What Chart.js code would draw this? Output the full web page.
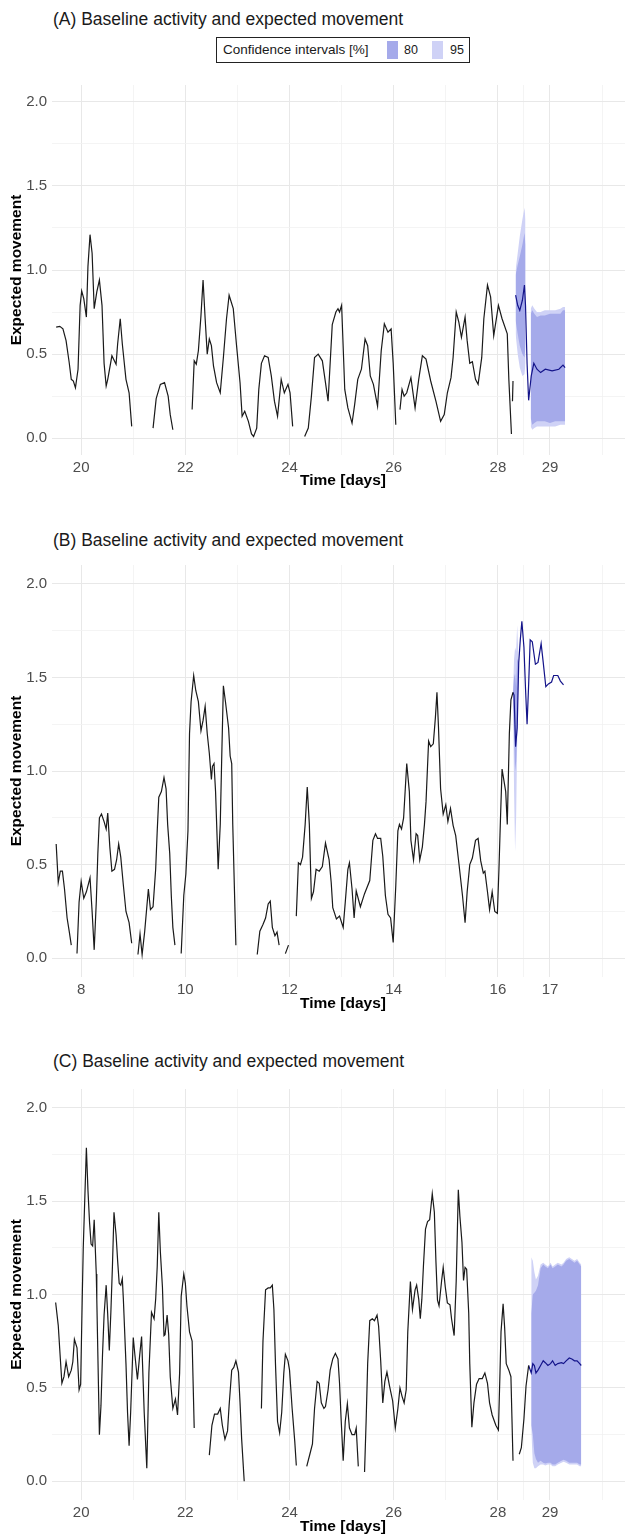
<!DOCTYPE html>
<html>
<head>
<meta charset="utf-8">
<script src="https://cdn.jsdelivr.net/npm/chart.js@4.4.1/dist/chart.umd.min.js"></script>
<style>
  body { margin: 0; background: #fff; font-family: "Liberation Sans", Arial, sans-serif; }
  #page { position: relative; width: 625px; height: 1537px; overflow: hidden; background: #fff; }
  canvas { position: absolute; left: 0; }
  .ptitle { position: absolute; left: 53px; font-size: 17.5px; color: #1a1a1a; white-space: nowrap; line-height: 20px; }
  .xtitle { position: absolute; left: 243px; width: 200px; text-align: center; font-weight: bold; font-size: 15.5px; color: #000; line-height: 18px; }
  #legend { position: absolute; left: 216px; top: 37px; width: 252px; height: 24px; border: 1px solid #222; }
  #legend span { position: absolute; white-space: nowrap; }
  .sw { position: absolute; top: 3px; width: 11px; height: 18px; }
</style>
</head>
<body>
<div id="page">
  <div class="ptitle" style="top:9px">(A) Baseline activity and expected movement</div>
  <div id="legend">
    <span style="left:6px;top:4px;font-size:13.5px;color:#1a1a1a">Confidence intervals [%]</span>
    <div class="sw" style="left:170px;background:#a5aaea"></div>
    <span style="left:187px;top:5px;font-size:12.5px;color:#1a1a1a">80</span>
    <div class="sw" style="left:215px;background:#cfd2f6"></div>
    <span style="left:233px;top:5px;font-size:12.5px;color:#1a1a1a">95</span>
  </div>
  <canvas id="chartA" width="625" height="410" style="top:71px"></canvas>
  <div class="xtitle" style="top:471px">Time [days]</div>

  <div class="ptitle" style="top:530px">(B) Baseline activity and expected movement</div>
  <canvas id="chartB" width="625" height="452" style="top:551px"></canvas>
  <div class="xtitle" style="top:994px">Time [days]</div>

  <div class="ptitle" style="top:1051px">(C) Baseline activity and expected movement</div>
  <canvas id="chartC" width="625" height="451" style="top:1075px"></canvas>
  <div class="xtitle" style="top:1517px">Time [days]</div>
</div>

<script>
// ---- panel A ----
const obsTimeA = [19.52,19.59,19.65,19.71,19.77,19.81,19.85,19.89,19.94,19.98,20.01,20.05,20.10,20.13,20.17,20.21,20.25,20.30,20.35,20.40,20.44,20.48,20.51,20.59,20.67,20.70,20.75,20.79,20.86,20.92,20.97,21.2,
  21.38,21.44,21.52,21.60,21.67,21.71,21.76,21.9,
  22.13,22.17,22.21,22.25,22.30,22.34,22.38,22.42,22.46,22.50,22.54,22.60,22.67,22.73,22.79,22.84,22.92,22.98,23.05,23.09,23.14,23.21,23.27,23.31,23.37,23.41,23.46,23.52,23.59,23.65,23.71,23.77,23.84,23.90,23.97,24.01,24.06,24.2,
  24.29,24.36,24.42,24.48,24.55,24.63,24.69,24.74,24.82,24.89,24.93,24.96,25.00,25.06,25.12,25.20,25.25,25.31,25.38,25.45,25.50,25.55,25.61,25.69,25.76,25.82,25.89,25.95,25.99,26.04,26.08,
  26.12,26.16,26.20,26.25,26.33,26.41,26.48,26.55,26.62,26.71,26.81,26.90,26.97,27.03,27.10,27.14,27.20,27.25,27.30,27.37,27.41,27.46,27.51,27.57,27.62,27.69,27.73,27.80,27.86,27.92,28.01,28.08,28.18,28.21,28.26,28.27,
  28.28,28.29];
const obsValA = [0.66,0.665,0.65,0.58,0.45,0.35,0.34,0.30,0.41,0.79,0.875,0.83,0.72,1.02,1.21,1.10,0.77,0.87,0.94,0.79,0.445,0.31,0.35,0.49,0.44,0.56,0.71,0.56,0.35,0.27,0.07,null,
  0.06,0.235,0.32,0.33,0.25,0.14,0.05,null,
  0.17,0.46,0.44,0.52,0.73,0.94,0.71,0.50,0.59,0.55,0.43,0.33,0.27,0.48,0.71,0.85,0.77,0.56,0.33,0.13,0.16,0.10,0.025,0.01,0.06,0.29,0.445,0.49,0.48,0.37,0.22,0.13,0.35,0.27,0.32,0.27,0.07,null,
  0.01,0.06,0.25,0.48,0.50,0.46,0.33,0.22,0.675,0.75,0.77,0.75,0.79,0.29,0.18,0.09,0.20,0.35,0.41,0.59,0.55,0.37,0.32,0.19,0.52,0.68,0.63,0.65,0.445,0.08,null,
  0.17,0.29,0.25,0.27,0.36,0.18,0.35,0.49,0.47,0.34,0.22,0.10,0.14,0.27,0.36,0.48,0.75,0.69,0.60,0.72,0.58,0.445,0.455,0.35,0.32,0.48,0.71,0.91,0.84,0.61,0.79,0.71,0.62,0.35,0.025,null,
  0.22,0.34];
const fcTimeA = [28.34,28.38,28.42,28.47,28.51,28.53,28.56,28.59,28.64,28.69,28.75,28.82,28.91,29.04,29.17,29.25,29.29];
const fcValA  = [0.85,0.79,0.76,0.82,0.91,0.79,0.445,0.225,0.37,0.445,0.41,0.39,0.41,0.40,0.41,0.435,0.42];
const ciTimeA = [28.34,28.38,28.42,28.47,28.51,28.53,28.58,28.63,28.66,28.70,28.75,28.82,28.90,29.00,29.10,29.20,29.25,29.29];
const hi95A = [1.00,1.10,1.20,1.30,1.37,1.30,null,0.77,0.79,0.77,0.75,0.75,0.76,0.76,0.76,0.77,0.78,0.78];
const hi80A = [0.97,1.03,1.08,1.15,1.22,1.15,null,0.74,0.76,0.74,0.72,0.73,0.73,0.74,0.74,0.74,0.76,0.76];
const lo80A = [0.70,0.62,0.55,0.50,0.48,0.55,null,0.12,0.08,0.09,0.10,0.10,0.10,0.09,0.10,0.10,0.10,0.10];
const lo95A = [0.62,0.50,0.42,0.37,0.38,0.45,null,0.07,0.05,0.06,0.07,0.07,0.07,0.07,0.07,0.08,0.08,0.08];
const xMajorA = [20,22,24,26,28,29];
const xMinorA = [21,23,25,27,28.5,30];

// ---- panel B ----
const obsTimeB = [7.52,7.56,7.60,7.64,7.68,7.73,7.77,7.81,7.86,
  7.92,7.96,8.00,8.05,8.10,8.17,8.21,8.25,8.29,8.32,8.35,8.39,8.44,8.48,8.51,8.55,8.59,8.64,8.68,8.72,8.76,8.81,8.86,8.92,8.97,9.03,
  9.09,9.13,9.17,9.22,9.29,9.33,9.38,9.43,9.46,9.49,9.54,9.59,9.63,9.66,9.70,9.73,9.76,9.80,9.86,
  9.92,9.97,10.01,10.05,10.08,10.11,10.16,10.20,10.25,10.30,10.34,10.38,10.42,10.46,10.50,10.52,10.55,10.58,10.63,10.67,10.70,10.73,10.77,10.83,10.86,10.89,10.91,10.94,10.97,11.2,
  11.38,11.43,11.49,11.54,11.59,11.63,11.67,11.72,11.76,11.80,11.86,
  11.92,11.98,12.05,
  12.13,12.17,12.21,12.25,12.30,12.34,12.38,12.42,12.46,12.51,12.57,12.63,12.69,12.76,12.80,12.83,12.90,12.96,13.03,13.07,13.12,13.15,13.20,13.24,13.28,13.36,13.44,13.54,13.60,13.65,13.69,13.75,13.79,13.84,13.89,13.94,13.99,
  14.04,14.08,14.11,14.15,14.19,14.25,14.30,14.33,14.38,14.43,14.46,14.50,14.55,14.59,14.62,14.67,14.71,14.76,14.80,14.83,14.86,14.90,14.95,15.00,15.04,15.09,15.14,15.19,15.25,15.32,15.37,15.41,15.46,15.51,15.57,15.62,15.67,15.72,15.75,15.80,15.84,15.89,15.94,15.99,
  16.02,16.05,16.08,16.15,16.18,16.22,16.25,16.29];
const obsValB = [0.61,0.405,0.465,0.465,0.37,0.215,0.145,0.07,null,
  0.025,0.30,0.41,0.32,0.355,0.43,0.25,0.045,0.30,0.56,0.75,0.77,0.73,0.69,0.775,0.595,0.465,0.475,0.525,0.61,0.54,0.39,0.25,0.19,0.08,null,
  0.02,0.13,0.02,0.145,0.37,0.26,0.275,0.475,0.68,0.86,0.89,0.965,0.905,0.715,0.56,0.335,0.165,0.07,null,
  0.025,0.335,0.45,0.68,1.20,1.37,1.51,1.43,1.37,1.215,1.27,1.345,1.20,1.095,0.955,1.025,1.04,0.89,0.475,0.715,1.095,1.455,1.37,1.23,1.08,1.04,0.715,0.39,0.07,null,
  0.02,0.145,0.18,0.215,0.29,0.305,0.165,0.12,0.14,0.07,null,
  0.025,0.07,null,
  0.225,0.51,0.50,0.54,0.715,0.915,0.715,0.32,0.355,0.475,0.465,0.49,0.615,0.525,0.405,0.27,0.21,0.225,0.165,0.30,0.475,0.51,0.37,0.215,0.36,0.275,0.345,0.415,0.63,0.665,0.64,0.64,0.545,0.335,0.235,0.215,0.085,
  0.39,0.68,0.715,0.69,0.75,1.04,0.89,0.63,0.525,0.665,0.655,0.525,0.595,0.715,0.835,1.16,1.13,1.145,1.285,1.42,1.23,0.905,0.77,0.82,0.73,0.80,0.71,0.655,0.51,0.335,0.19,0.355,0.50,0.535,0.63,0.64,0.52,0.455,0.465,0.355,0.26,0.355,0.25,0.24,
  0.475,0.75,1.01,0.89,0.715,1.20,1.38,1.42];
const fcTimeB = [16.29,16.31,16.34,16.37,16.40,16.43,16.46,16.50,16.53,16.56,16.59,16.62,16.66,16.72,16.77,16.83,16.87,16.92,16.97,17.03,17.07,17.15,17.20,17.26];
const fcValB  = [1.42,1.405,1.13,1.23,1.58,1.70,1.80,1.66,1.44,1.25,1.46,1.70,1.69,1.57,1.58,1.68,1.58,1.45,1.465,1.475,1.51,1.51,1.48,1.46];
const ciTimeB = [16.29,16.31,16.33,16.35,16.37,16.40];
const hi95B = [1.42,1.60,1.66,1.64,1.78,1.58];
const hi80B = [1.42,1.50,1.52,1.45,1.60,1.58];
const lo80B = [1.42,1.20,1.00,1.05,1.20,1.58];
const lo95B = [1.42,0.90,0.57,0.75,1.15,1.58];
const xMajorB = [8,10,12,14,16,17];
const xMinorB = [9,11,13,15,16.5,18];

// ---- panel C ----
const obsTimeC = [19.51,19.56,19.59,19.63,19.67,19.71,19.76,19.81,19.84,19.87,19.92,19.96,19.99,20.02,20.04,20.10,20.13,20.16,20.19,20.22,20.25,20.29,20.30,20.35,20.38,20.41,20.44,20.48,20.51,20.54,20.57,20.60,20.63,20.67,20.70,20.73,20.76,20.79,20.81,20.86,20.89,20.92,20.95,21.00,21.03,21.08,21.12,21.16,21.21,21.26,21.30,21.35,21.40,21.43,21.46,21.49,21.52,21.56,21.59,21.61,21.65,21.68,21.71,21.76,21.81,21.85,21.89,21.92,21.97,22.00,22.03,22.08,22.13,22.17,22.3,
  22.46,22.51,22.56,22.62,22.67,22.71,22.76,22.81,22.84,22.89,22.93,22.97,23.02,23.05,23.08,23.13,23.3,
  23.46,23.49,23.54,23.59,23.63,23.67,23.70,23.73,23.77,23.81,23.85,23.89,23.92,23.97,24.00,24.05,24.10,24.13,24.23,
  24.33,24.39,24.44,24.48,24.53,24.57,24.61,24.66,24.69,24.74,24.78,24.83,24.88,24.93,24.96,24.99,25.03,25.07,25.11,25.15,25.20,25.25,25.28,25.32,25.38,
  25.44,25.47,25.50,25.54,25.59,25.63,25.68,25.71,25.75,25.79,25.83,25.87,25.92,25.98,26.03,26.08,26.12,26.16,26.20,26.24,26.27,26.32,26.36,26.41,26.44,26.48,26.51,26.54,26.57,26.61,26.65,26.69,26.74,26.78,26.81,26.84,26.87,26.92,26.95,26.99,27.03,27.08,27.11,27.16,27.20,27.24,27.27,27.31,27.34,27.37,27.40,27.44,27.46,27.50,27.54,27.59,27.64,27.70,27.75,27.80,27.84,27.89,27.96,28.01,28.04,28.06,28.10,28.13,28.16,28.21,28.25,28.29,28.35,
  28.41,28.45,28.50,28.54,28.59];
const obsValC = [0.957,0.835,0.70,0.525,0.56,0.64,0.56,0.595,0.64,0.76,0.715,0.49,0.52,0.975,1.25,1.785,1.56,1.39,1.27,1.26,1.40,1.11,0.975,0.25,0.405,0.68,0.89,1.05,0.89,0.70,0.905,1.15,1.44,1.32,1.18,1.06,1.05,1.085,0.975,0.63,0.37,0.19,0.37,0.77,0.68,0.545,0.665,0.775,0.37,0.07,0.58,0.905,0.87,0.975,1.15,1.44,1.23,1.04,0.78,0.785,0.89,0.785,0.56,0.39,0.44,0.355,0.58,0.99,1.11,1.06,0.94,0.80,0.75,0.285,null,
  0.14,0.30,0.36,0.36,0.39,0.30,0.225,0.27,0.405,0.595,0.61,0.645,0.585,0.42,0.23,0.0,null,
  0.39,0.75,1.025,1.035,1.035,1.05,0.92,0.63,0.32,0.26,0.37,0.58,0.68,0.645,0.595,0.39,0.215,0.085,null,
  0.08,0.145,0.20,0.39,0.535,0.525,0.42,0.39,0.40,0.49,0.595,0.655,0.685,0.655,0.525,0.335,0.11,0.32,0.415,0.285,0.25,0.25,0.285,0.08,null,
  0.05,0.32,0.63,0.86,0.87,0.86,0.89,0.83,0.645,0.42,0.535,0.585,0.51,0.43,0.285,0.39,0.50,0.455,0.42,0.49,0.80,1.07,0.92,1.025,1.05,0.975,0.87,0.975,1.15,1.35,1.39,1.40,1.54,1.44,1.18,0.97,0.94,1.075,1.145,1.04,0.955,0.945,0.87,0.78,1.075,1.56,1.42,1.28,1.075,1.145,1.135,0.90,0.63,0.29,0.42,0.52,0.55,0.55,0.58,0.525,0.42,0.355,0.30,0.275,0.58,0.80,0.95,0.82,0.63,0.595,0.56,0.11,null,
  0.145,0.18,0.335,0.51,0.62];
const fcTimeC = [28.59,28.64,28.67,28.70,28.73,28.77,28.82,28.87,28.91,28.96,29.01,29.05,29.10,29.15,29.22,29.26,29.31,29.37,29.42,29.47,29.52,29.57,29.60];
const fcValC  = [0.62,0.58,0.63,0.62,0.58,0.595,0.62,0.645,0.635,0.62,0.63,0.645,0.62,0.63,0.635,0.63,0.645,0.66,0.655,0.645,0.645,0.63,0.62];
const ciTimeC = [28.64,28.67,28.70,28.73,28.77,28.82,28.87,28.91,28.96,29.01,29.05,29.10,29.15,29.22,29.26,29.31,29.37,29.42,29.47,29.52,29.57,29.60];
const hi95C = [1.20,1.18,1.12,1.08,1.10,1.16,1.17,1.16,1.15,1.17,1.15,1.16,1.17,1.16,1.17,1.19,1.20,1.19,1.18,1.19,1.17,1.16];
const hi80C = [0.90,1.00,1.01,1.02,1.05,1.14,1.16,1.15,1.14,1.16,1.14,1.15,1.16,1.15,1.16,1.18,1.19,1.18,1.17,1.18,1.16,1.15];
const lo80C = [0.30,0.25,0.15,0.12,0.10,0.11,0.10,0.095,0.10,0.10,0.09,0.09,0.10,0.11,0.115,0.11,0.10,0.10,0.10,0.10,0.09,0.09];
const lo95C = [0.28,0.10,0.07,0.07,0.08,0.09,0.09,0.085,0.09,0.09,0.08,0.08,0.09,0.10,0.105,0.10,0.09,0.09,0.09,0.09,0.08,0.08];

const yMajor = [0, 0.5, 1, 1.5, 2];
const yMinor = [0.25, 0.75, 1.25, 1.75];

const col80 = '#a5aaea';
const col95 = '#cfd2f6';
const colObs = '#1a1a1a';
const colFc = '#14148a';
const tickFont = { family: '"Liberation Sans", Arial, sans-serif', size: 15 };

function pts(ts, vs) {
  return ts.map((t, i) => ({ x: t, y: vs[i] }));
}

function band(ts, vs, fill, color) {
  return { data: pts(ts, vs), fill: fill, backgroundColor: color, borderWidth: 0, pointRadius: 0, spanGaps: false };
}

function makePanel(id, p) {
  const xTicks = p.major.concat(p.minor).sort((a, b) => a - b);
  const yTicks = yMajor.concat(yMinor).sort((a, b) => a - b);
  // Chart.js paints lower indexes on top: lines first, then 80 %, then 95 %
  return new Chart(document.getElementById(id), {
    type: 'line',
    data: {
      datasets: [
        { data: pts(p.obsT, p.obsV), borderColor: colObs, borderWidth: 1.2, pointRadius: 0, fill: false, spanGaps: false },
        { data: pts(p.fcT, p.fcV), borderColor: colFc, borderWidth: 1.2, pointRadius: 0, fill: false },
        band(p.ciT, p.hi80, '+1', col80),
        band(p.ciT, p.lo80, false, col80),
        band(p.ciT, p.hi95, '+1', col95),
        band(p.ciT, p.lo95, false, col95)
      ]
    },
    options: {
      responsive: false,
      animation: false,
      devicePixelRatio: 1,
      layout: { padding: 0 },
      elements: { line: { tension: 0 } },
      plugins: { legend: { display: false }, tooltip: { enabled: false } },
      scales: {
        x: {
          type: 'linear',
          min: p.xmin,
          max: p.xmax,
          afterBuildTicks: s => { s.ticks = xTicks.map(v => ({ value: v })); },
          afterFit: s => { s.height = 26; },
          border: { display: false },
          grid: {
            drawTicks: false,
            color: c => p.major.includes(c.tick.value) ? '#e8e8e8' : '#f1f1f1',
            lineWidth: c => p.major.includes(c.tick.value) ? 1 : 0.8
          },
          ticks: {
            autoSkip: false, maxRotation: 0, padding: 4,
            color: '#4d4d4d', font: tickFont,
            callback: v => p.major.includes(v) ? String(v) : ''
          }
        },
        y: {
          min: -0.1,
          max: 2.1,
          afterBuildTicks: s => { s.ticks = yTicks.map(v => ({ value: v })); },
          afterFit: s => { s.width = 52; },
          border: { display: false },
          grid: {
            drawTicks: false,
            color: c => yMajor.includes(c.tick.value) ? '#e8e8e8' : '#f1f1f1',
            lineWidth: c => yMajor.includes(c.tick.value) ? 1 : 0.8
          },
          ticks: {
            padding: 5, color: '#4d4d4d', font: tickFont,
            callback: v => yMajor.includes(v) ? v.toFixed(1) : ''
          },
          title: {
            display: true, text: 'Expected movement', color: '#000',
            font: { family: '"Liberation Sans", Arial, sans-serif', size: 15.5, weight: 'bold' },
            padding: { top: 7, bottom: 0 }
          }
        }
      }
    }
  });
}

makePanel('chartA', {
  obsT: obsTimeA, obsV: obsValA, fcT: fcTimeA, fcV: fcValA,
  ciT: ciTimeA, hi95: hi95A, hi80: hi80A, lo80: lo80A, lo95: lo95A,
  major: xMajorA, minor: xMinorA, xmin: 19.44, xmax: 30.44
});
makePanel('chartB', {
  obsT: obsTimeB, obsV: obsValB, fcT: fcTimeB, fcV: fcValB,
  ciT: ciTimeB, hi95: hi95B, hi80: hi80B, lo80: lo80B, lo95: lo95B,
  major: xMajorB, minor: xMinorB, xmin: 7.44, xmax: 18.44
});
makePanel('chartC', {
  obsT: obsTimeC, obsV: obsValC, fcT: fcTimeC, fcV: fcValC,
  ciT: ciTimeC, hi95: hi95C, hi80: hi80C, lo80: lo80C, lo95: lo95C,
  major: xMajorA, minor: xMinorA, xmin: 19.44, xmax: 30.44
});
</script>
</body>
</html>
